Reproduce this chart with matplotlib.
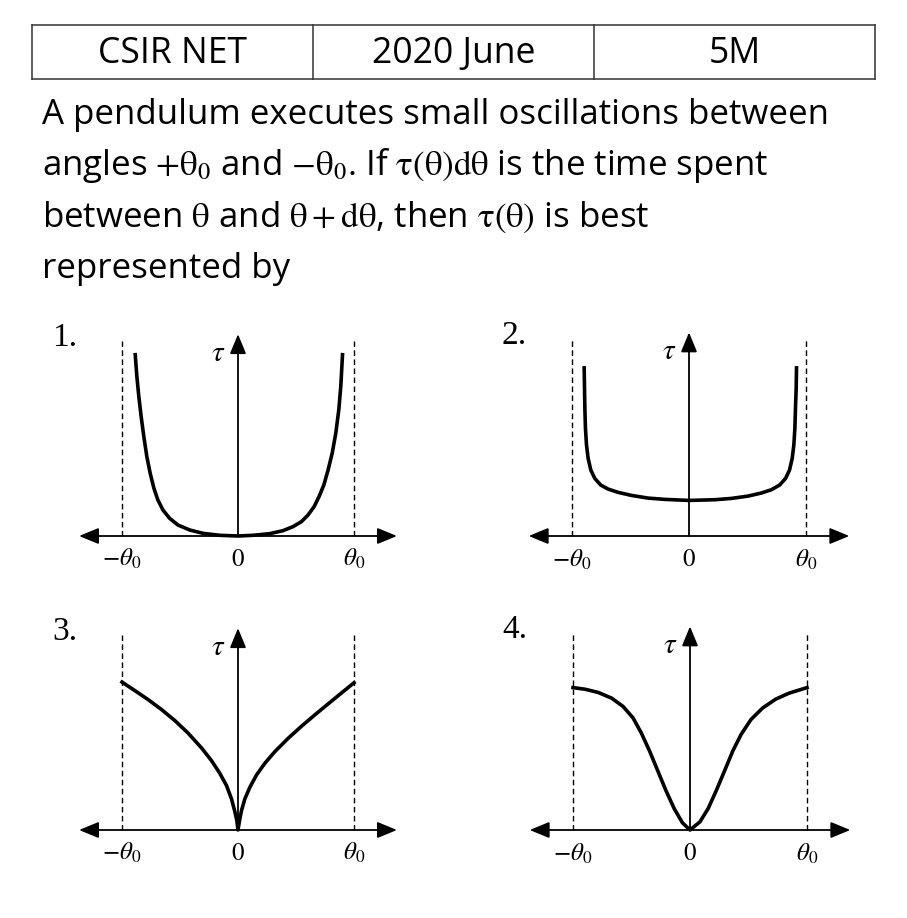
import numpy as np
import matplotlib.pyplot as plt

# header row and question text
header = ['CSIR NET', '2020 June', '5M']
question = [
    'A pendulum executes small oscillations between',
    r'angles $+\mathrm{\theta}_0$ and $-\mathrm{\theta}_0$. If $\mathrm{\tau(\theta)d\theta}$ is the time spent',
    r'between $\mathrm{\theta}$ and $\mathrm{\theta + d\theta}$, then $\mathrm{\tau(\theta)}$ is best',
    'represented by',
]

# curves (theta in units of theta0, tau on the same scale)
p1_theta = [-0.886, -0.872, -0.855, -0.835, -0.812, -0.786, -0.757, -0.725, -0.691,
            -0.647, -0.590, -0.518, -0.417, -0.302, -0.158, 0.0,
            0.129, 0.273, 0.388, 0.475, 0.547, 0.604, 0.656, 0.699, 0.740,
            0.777, 0.812, 0.843, 0.869, 0.886, 0.901]
p1_tau = [1.563, 1.376, 1.203, 1.030, 0.858, 0.685, 0.541, 0.412, 0.311,
          0.224, 0.153, 0.095, 0.052, 0.023, 0.006, 0.0,
          0.006, 0.020, 0.046, 0.081, 0.124, 0.181, 0.253, 0.340, 0.440,
          0.570, 0.714, 0.886, 1.088, 1.289, 1.563]

p2_theta = [-0.896, -0.893, -0.890, -0.885, -0.876, -0.862, -0.839, -0.805, -0.754,
            -0.691, -0.606, -0.492, -0.350, -0.208, 0.0,
            0.219, 0.361, 0.504, 0.617, 0.703, 0.774, 0.825, 0.859, 0.882,
            0.896, 0.905, 0.910, 0.916, 0.919]
p2_tau = [1.437, 1.260, 1.090, 0.919, 0.777, 0.663, 0.563, 0.492, 0.435,
          0.401, 0.373, 0.347, 0.324, 0.313, 0.304,
          0.310, 0.321, 0.341, 0.367, 0.395, 0.435, 0.492, 0.563, 0.663,
          0.777, 0.919, 1.090, 1.260, 1.437]

p3_theta = [-1.0, -0.891, -0.776, -0.660, -0.545, -0.430, -0.315, -0.229, -0.157,
            -0.099, -0.056, -0.027, -0.010, 0.0,
            0.013, 0.030, 0.059, 0.102, 0.160, 0.232, 0.318, 0.433, 0.548,
            0.663, 0.778, 0.894, 1.0]
p3_tau = [1.275, 1.203, 1.125, 1.039, 0.944, 0.835, 0.708, 0.599, 0.489,
          0.383, 0.268, 0.158, 0.081, 0.0,
          0.081, 0.167, 0.268, 0.368, 0.475, 0.576, 0.676, 0.791, 0.895,
          0.993, 1.088, 1.183, 1.269]

p4_theta = [-1.0, -0.896, -0.783, -0.670, -0.572, -0.487, -0.417, -0.346, -0.276,
            -0.206, -0.135, -0.065, 0.0,
            0.085, 0.155, 0.225, 0.296, 0.366, 0.437, 0.521, 0.620, 0.732,
            0.845, 1.0]
p4_tau = [1.217, 1.203, 1.175, 1.127, 1.056, 0.958, 0.831, 0.676, 0.507,
          0.338, 0.183, 0.062, 0.0,
          0.070, 0.183, 0.338, 0.507, 0.676, 0.817, 0.944, 1.042, 1.118,
          1.169, 1.217]

tick_labels = [r'$-\theta_0$', r'$0$', r'$\theta_0$']
tick_pos = [-1, 0, 1]
panel_labels = ['1.', '2.', '3.', '4.']

plt.rcParams['mathtext.fontset'] = 'stix'
W, H = 907, 918
fig = plt.figure(figsize=(W / 100, H / 100), dpi=100)
renderer = fig.canvas.get_renderer()

# background axes in pixel coords for the table and the text
bg = fig.add_axes([0, 0, 1, 1])
bg.set_xlim(0, W)
bg.set_ylim(H, 0)
bg.axis('off')

FONT = 'Open Sans'


def fit_size(t, target_px):
    # scale the font so the text is as wide as in the picture
    bb = t.get_window_extent(renderer)
    t.set_fontsize(t.get_fontsize() * target_px / bb.width)


cols = [32, 313, 594, 875]
top, bot = 25, 79
bg.plot([cols[0], cols[-1]], [top, top], color='#333333', lw=1.1)
bg.plot([cols[0], cols[-1]], [bot, bot], color='#333333', lw=1.1)
for c in cols:
    bg.plot([c, c], [top, bot], color='#333333', lw=1.1)
htexts = []
for i, h in enumerate(header):
    htexts.append(bg.text((cols[i] + cols[i + 1]) / 2, 63, h, ha='center',
                          va='baseline', fontsize=20, family=FONT))
fit_size(htexts[0], 149)
for t in htexts[1:]:
    t.set_fontsize(htexts[0].get_fontsize())

qtexts = []
for i, line in enumerate(question):
    qtexts.append(bg.text(42, 124 + i * 51.3, line, ha='left', va='baseline',
                          fontsize=20, family=FONT))
fit_size(qtexts[0], 784)
for t in qtexts[1:]:
    t.set_fontsize(qtexts[0].get_fontsize())


def panel(ox, oy, s, theta, tau, label):
    x0, x1 = ox - 205, ox + 205
    y0, y1 = oy - 230, oy + 55
    ax = fig.add_axes([x0 / W, 1 - y1 / H, (x1 - x0) / W, (y1 - y0) / H])
    ax.set_xlim((x0 - ox) / s, (x1 - ox) / s)
    ax.set_ylim((oy - y1) / s, (oy - y0) / s)
    ax.axis('off')

    arw = dict(arrowstyle='<|-|>,head_length=0.8,head_width=0.33',
               mutation_scale=15, lw=1.3, color='k', shrinkA=0, shrinkB=0)
    ax.annotate('', xy=(1.37, 0), xytext=(-1.37, 0), arrowprops=arw)
    arw_up = dict(arw, arrowstyle='-|>,head_length=0.8,head_width=0.33')
    ax.annotate('', xy=(0, 1.74), xytext=(0, 0), arrowprops=arw_up)

    for d in [-1, 1]:
        ax.plot([d, d], [0, 1.68], color='k', lw=1.0, ls=(0, (4, 2.5)))

    ax.plot(theta, tau, color='k', lw=2.6, solid_joinstyle='round')

    for p, t in zip(tick_pos, tick_labels):
        ax.text(p, -0.2, t, ha='center', va='center', fontsize=18)
    ax.text(-0.17, 1.58, r'$\tau$', ha='center', va='center', fontsize=21)
    ax.text(-1.6, 1.71, label, ha='left', va='center', fontsize=24,
            family='Liberation Serif')


panel(238, 536, 116, p1_theta, p1_tau, panel_labels[0])
panel(689, 536, 117, p2_theta, p2_tau, panel_labels[1])
panel(238, 830, 116, p3_theta, p3_tau, panel_labels[2])
panel(690, 830, 117, p4_theta, p4_tau, panel_labels[3])

fig.savefig('out.png', dpi=100, facecolor='white')
